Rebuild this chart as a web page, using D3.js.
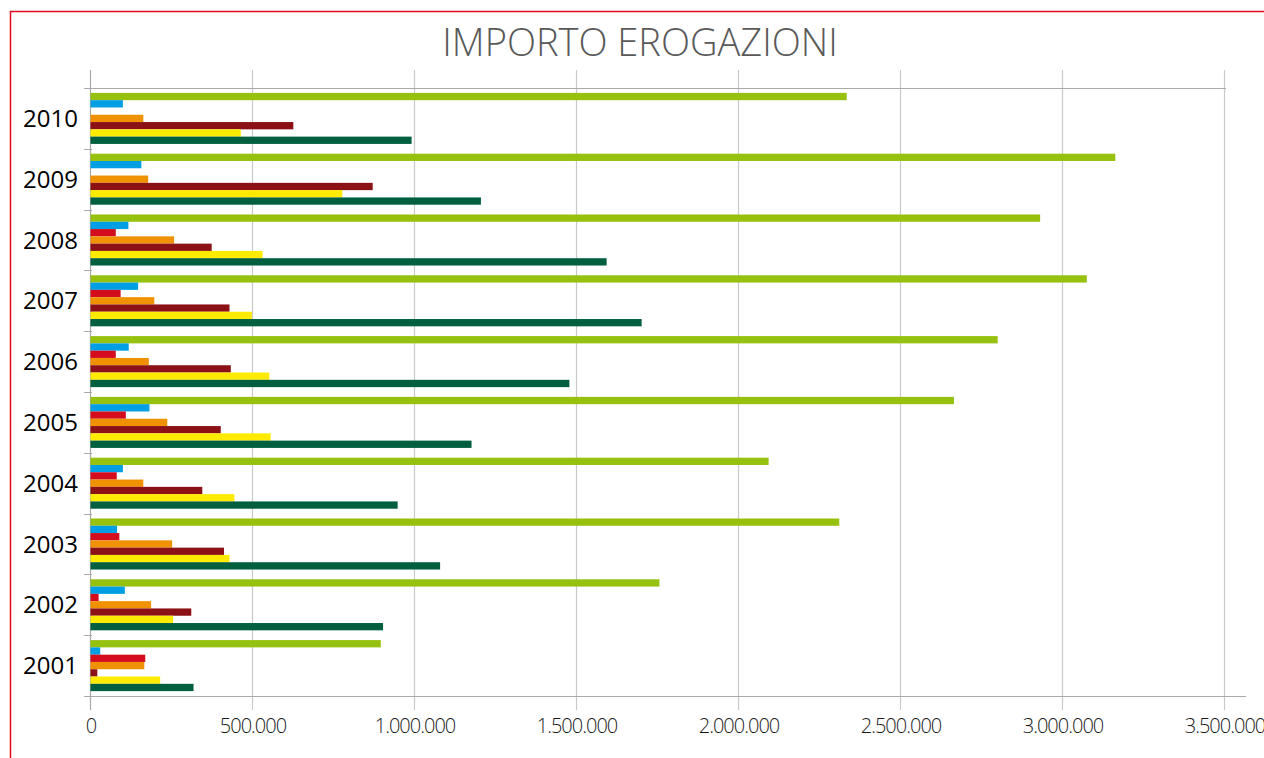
<!DOCTYPE html>
<html>
<head>
<meta charset="utf-8">
<script src="https://cdn.jsdelivr.net/npm/d3@7"></script>
<style>
  body { margin: 0; background: #fff; }
  svg { display: block; font-family: "Open Sans", sans-serif; }
</style>
</head>
<body>
<svg width="1264" height="758"></svg>
<script>
// anni dal più recente (in alto) al più vecchio
var years = ["2010", "2009", "2008", "2007", "2006", "2005", "2004", "2003", "2002", "2001"];
var seriesKeys = ["verde", "azzurro", "rosso", "arancio", "bordeaux", "giallo", "verdeScuro"];
var seriesColors = ["#97c10f", "#009fe3", "#d30c1e", "#ef9100", "#8b1116", "#ffeb00", "#005f3f"];
var xTicks = [0, 500000, 1000000, 1500000, 2000000, 2500000, 3000000, 3500000];

// valori, stesso ordine di years
var verde      = [2334000, 3163000, 2931000, 3075000, 2800000, 2665000, 2093000, 2311000, 1756000, 896000];
var azzurro    = [100000, 157000, 117000, 147000, 118000, 182000, 100000, 82000, 106000, 30000];
var rosso      = [null, null, 78000, 93000, 78000, 109000, 81000, 89000, 25000, 169000];
var arancio    = [163000, 178000, 258000, 197000, 180000, 237000, 163000, 252000, 187000, 166000];
var bordeaux   = [626000, 871000, 374000, 429000, 433000, 402000, 345000, 412000, 311000, 21000];
var giallo     = [464000, 777000, 531000, 498000, 552000, 556000, 444000, 429000, 255000, 215000];
var verdeScuro = [991000, 1205000, 1593000, 1701000, 1478000, 1176000, 948000, 1079000, 903000, 318000];

var values = [verde, azzurro, rosso, arancio, bordeaux, giallo, verdeScuro];

var svg = d3.select("svg");

// cornice rossa
svg.append("rect")
    .attr("x", 10.5).attr("y", 11.5)
    .attr("width", 1300).attr("height", 800)
    .attr("fill", "none")
    .attr("stroke", "#e1081f")
    .attr("stroke-width", 1.5);

svg.append("text")
    .attr("x", 640).attr("y", 56)
    .attr("text-anchor", "middle")
    .attr("fill", "#595959")
    .style("font-size", "38px")
    .style("font-weight", 300)
    .text("IMPORTO EROGAZIONI");

var x = d3.scaleLinear().domain([0, 3500000]).range([90, 1224]);
var y0 = d3.scaleBand().domain(years).range([88, 696]);
var y1 = d3.scaleBand().domain(seriesKeys).range([0, y0.bandwidth()]).paddingOuter(0.67);
var color = d3.scaleOrdinal().domain(seriesKeys).range(seriesColors);

// griglia verticale
svg.append("g")
  .selectAll("line")
  .data(xTicks)
  .join("line")
    .attr("x1", d => Math.round(x(d)) + 0.5)
    .attr("x2", d => Math.round(x(d)) + 0.5)
    .attr("y1", 70).attr("y2", 710)
    .attr("stroke", d => d === 0 ? "#a9a9a9" : "#c9c9c9")
    .attr("stroke-width", 1.2);

// linee orizzontali sopra e sotto
svg.append("line")
    .attr("x1", 84).attr("x2", 1226).attr("y1", 88.5).attr("y2", 88.5)
    .attr("stroke", "#aaa").attr("stroke-width", 1.2);
svg.append("line")
    .attr("x1", 84).attr("x2", 1246).attr("y1", 696.5).attr("y2", 696.5)
    .attr("stroke", "#aaa").attr("stroke-width", 1.2);

// tacche delle categorie
svg.append("g")
  .selectAll("line")
  .data(years)
  .join("line")
    .attr("x1", 84).attr("x2", 92)
    .attr("y1", d => Math.round(y0(d)) + 0.5)
    .attr("y2", d => Math.round(y0(d)) + 0.5)
    .attr("stroke", "#aaa");

// barre
var rows = years.map((yr, i) => ({
  year: yr,
  bars: seriesKeys.map((k, j) => ({ key: k, value: values[j][i] }))
}));

svg.append("g")
  .selectAll("g")
  .data(rows)
  .join("g")
    .attr("transform", d => "translate(0," + y0(d.year) + ")")
  .selectAll("rect")
  .data(d => d.bars.filter(b => b.value != null))
  .join("rect")
    .attr("x", x(0) + 0.5)
    .attr("y", d => y1(d.key))
    .attr("width", d => x(d.value) - x(0))
    .attr("height", y1.bandwidth())
    .attr("fill", d => color(d.key));

// etichette anni
svg.append("g")
  .selectAll("text")
  .data(years)
  .join("text")
    .attr("x", 78)
    .attr("y", d => y0(d) + y0.bandwidth() / 2)
    .attr("dy", "0.36em")
    .attr("text-anchor", "end")
    .attr("fill", "#000")
    .style("font-size", "24px")
    .text(d => d);

// etichette asse x
var fmt = d3.formatLocale({ decimal: ",", thousands: ".", grouping: [3], currency: ["", "€"] }).format(",.0f");
svg.append("g")
  .selectAll("text")
  .data(xTicks)
  .join("text")
    .attr("x", d => x(d) + 1)
    .attr("y", 733)
    .attr("text-anchor", "middle")
    .attr("fill", "#1a1a1a")
    .style("font-size", "20px")
    .style("font-weight", 300)
    .style("letter-spacing", "-1px")
    .text(d => fmt(d));
</script>
</body>
</html>
